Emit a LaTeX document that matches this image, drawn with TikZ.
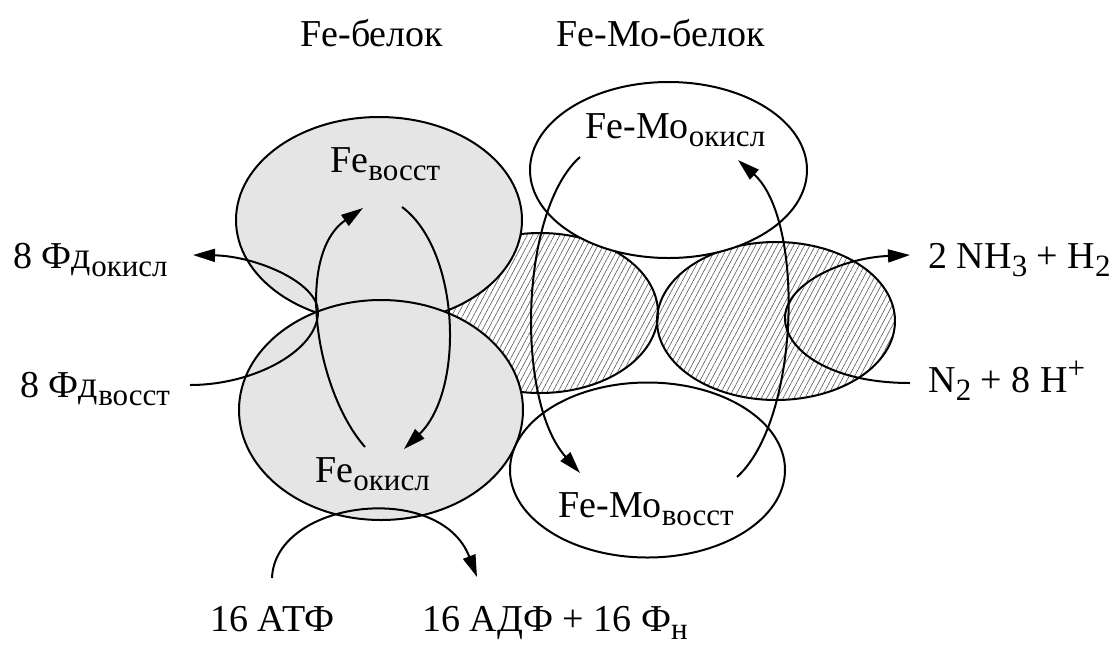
\documentclass[tikz,border=0pt]{standalone}
\usepackage{fontspec}
\setmainfont{Liberation Serif}
\usetikzlibrary{arrows.meta,patterns.meta}
\newcommand{\lowtx}[1]{\raisebox{-4pt}{\fontsize{15.5}{16}\selectfont #1}}
\newcommand{\hightx}[1]{\raisebox{7pt}{\fontsize{15.5}{16}\selectfont #1}}
\tikzset{
  shell/.style={draw, line width=1pt},
  grayshell/.style={shell, fill=black!10},
  whiteshell/.style={shell, fill=white},
  hatchshell/.style={shell, pattern={Lines[angle=62,distance=2.4pt,line width=0.3pt]}, pattern color=black!65},
  arr/.style={-{Triangle[length=11pt,width=6.5pt]}, line width=1pt},
  lab/.style={anchor=base west, inner sep=0pt, font=\fontsize{19}{23}\selectfont}
}

\begin{document}
\begin{tikzpicture}[x=0.5pt,y=-0.5pt]
\useasboundingbox (0,0) rectangle (1120,644);

% protein bodies
\draw[hatchshell] (540,313) ellipse [x radius=59pt, y radius=40pt];
\draw[hatchshell] (776,321) ellipse [x radius=59.5pt, y radius=39.5pt];
\draw[grayshell] (379,220) ellipse [x radius=71.5pt, y radius=51.5pt];
\draw[grayshell] (381,410) ellipse [x radius=71pt, y radius=55pt];
\draw[whiteshell] (668.5,170) ellipse [x radius=69.25pt, y radius=44pt];
\draw[whiteshell] (647.5,470) ellipse [x radius=68.75pt, y radius=43.75pt];

% labels
\node[lab] (febel) at (300,46) {Fe-белок};
\node[lab] (femobel) at (556,46) {Fe-Mo-белок};
\node[lab] (fered) at (330,172) {Fe\lowtx{восст}};
\node[lab] (feox) at (315,482) {Fe\lowtx{окисл}};
\node[lab] (moox) at (585,138) {Fe-Mo\lowtx{окисл}};
\node[lab] (mored) at (558,517) {Fe-Mo\lowtx{восст}};
\node[lab] (fdox) at (13,268) {8 Фд\lowtx{окисл}};
\node[lab] (fdred) at (20,397) {8 Фд\lowtx{восст}};
\node[lab] (nh) at (928,268) {2 NH\lowtx{3} + H\lowtx{2}};
\node[lab] (ntwo) at (928,392) {N\lowtx{2} + 8 H\hightx{+}};
\node[lab] (atp) at (210,631) {16 АТФ};
\node[lab] (adp) at (422,631) {16 АДФ + 16 Ф\lowtx{н}};

% arrow ends
\coordinate (fdin) at (190,385);
\coordinate (fdout) at (193,255);
\coordinate (feA) at (365,447);
\coordinate (feB) at (363,208);
\coordinate (feC) at (402,207);
\coordinate (feD) at (404,449);
\coordinate (moA) at (580,157);
\coordinate (moB) at (580,473);
\coordinate (moC) at (737,477);
\coordinate (moD) at (738,160);
\coordinate (nin) at (910,383);
\coordinate (nout) at (910,255);
\coordinate (atpin) at (272,578);
\coordinate (adpout) at (477,577);

% cycles
\draw[arr] (fdin) .. controls (255,385) and (318,350) .. (318,312)
  .. controls (318,282) and (255,256) .. (fdout);
\draw[arr] (feA) .. controls (315,390) and (295,255) .. (feB);
\draw[arr] (feC) .. controls (460,250) and (465,390) .. (feD);
\draw[arr] (moA) .. controls (520,210) and (515,400) .. (moB);
\draw[arr] (moC) .. controls (800,420) and (805,220) .. (moD);
\draw[arr] (nin) .. controls (830,383) and (785,350) .. (785,318)
  .. controls (785,285) and (840,258) .. (nout);
\draw[arr] (atpin) .. controls (275,500) and (440,480) .. (adpout);
\end{tikzpicture}
\end{document}
